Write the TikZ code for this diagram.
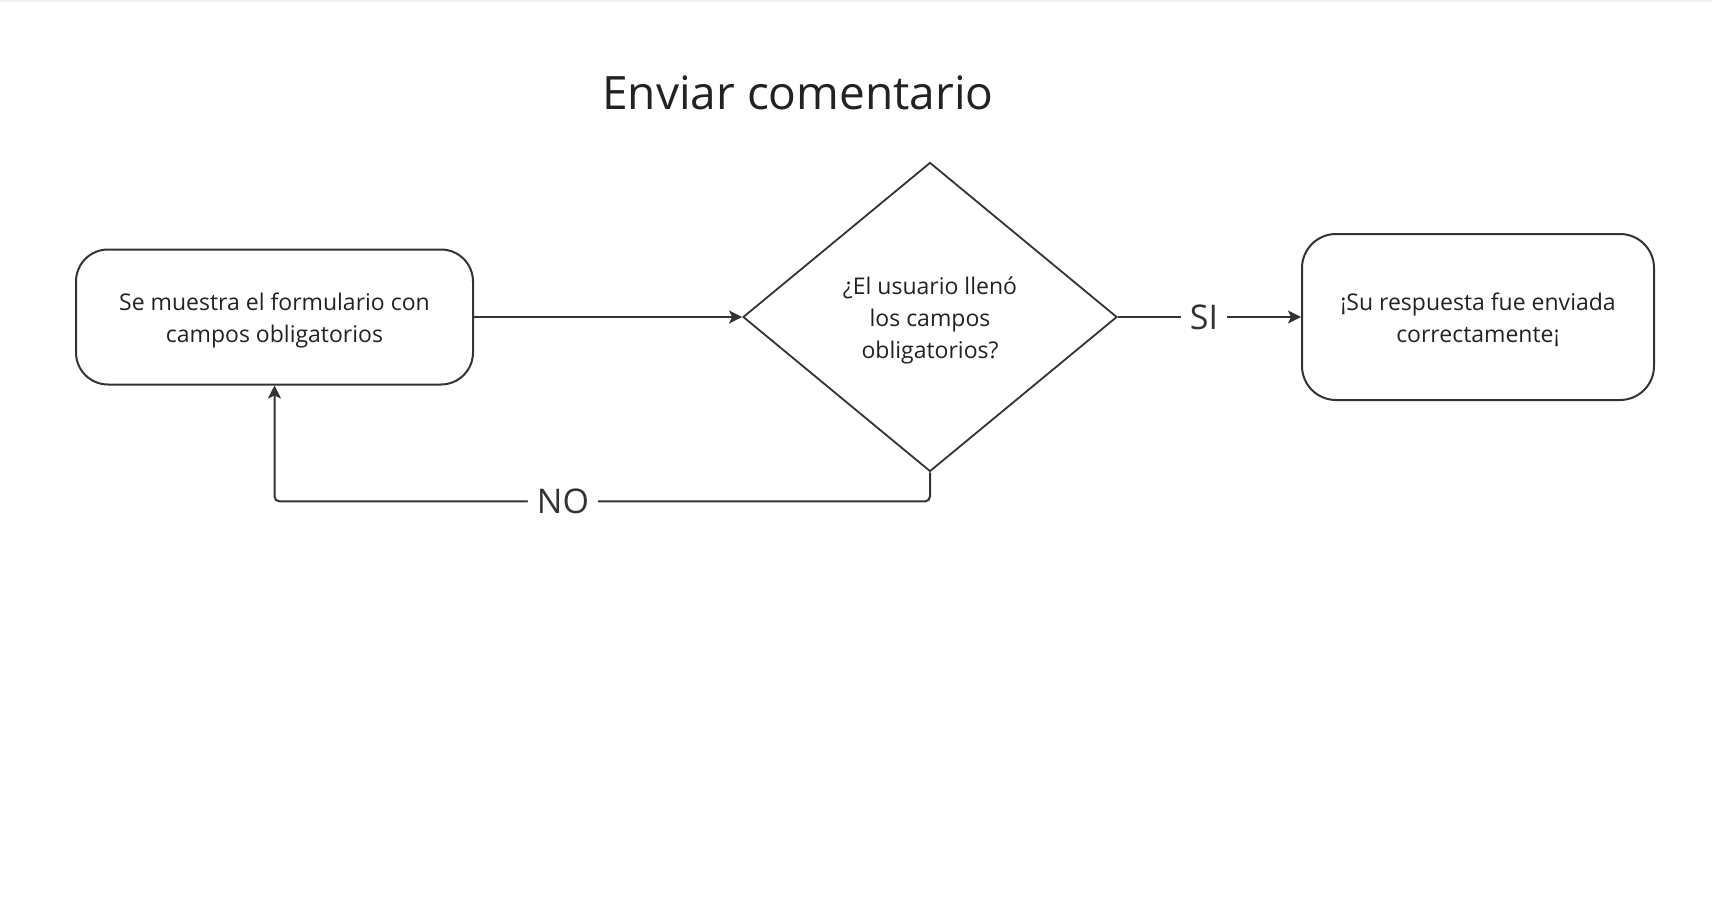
\documentclass[tikz,border=0pt]{standalone}
\usepackage{fontspec}
\setmainfont{Open Sans}
\usetikzlibrary{shapes.geometric,arrows.meta}
\definecolor{linec}{HTML}{333333}
\definecolor{textc}{HTML}{222222}
\definecolor{edgec}{HTML}{EFEFEF}
\newcommand{\lowtext}[1]{\raisebox{-3pt}[\height][\depth]{\begin{tabular}{@{}c@{}}#1\end{tabular}}}
\begin{document}
\begin{tikzpicture}[x=1pt,y=-1pt,
  box/.style={draw=linec, line width=2pt, rounded corners=32pt, inner sep=0pt,
    align=center, font=\fontsize{23}{32}\selectfont, text=textc},
  decision/.style={draw=linec, line width=1.8pt, diamond, inner sep=0pt,
    minimum width=374pt, minimum height=309pt, aspect=1.2, align=center,
    font=\fontsize{23}{32}\selectfont, text=textc},
  conn/.style={draw=linec, line width=2pt, -{Stealth[length=13pt,width=13pt,inset=3pt]}},
  lab/.style={font=\fontsize{34}{34}\selectfont, text=linec, fill=white,
    inner xsep=9pt, inner ysep=0pt},
  titlestyle/.style={font=\fontsize{46}{46}\selectfont, text=textc}
]
\useasboundingbox (0,0) rectangle (1712,912);
\fill[white] (0,0) rectangle (1712,912);
\draw[edgec, line width=2pt] (0,1) -- (1712,1);

\node[titlestyle, anchor=base] (title) at (798,110) {Enviar comentario};

\node[box, minimum width=397pt, minimum height=135pt] (form) at (274.5,317)
  {\lowtext{Se muestra el formulario con\\campos obligatorios}};
\node[decision] (dec) at (930,317)
  {\lowtext{¿El usuario llenó\\los campos\\obligatorios?}};
\node[box, rounded corners=34pt, minimum width=352pt, minimum height=166pt] (ok) at (1478,317)
  {\lowtext{¡Su respuesta fue enviada\\correctamente¡}};

\draw[conn] (form.east) -- (dec.west);
\draw[conn] (dec.east) -- node[lab, pos=0.47] {SI} (ok.west);
\draw[conn, rounded corners=5pt] (dec.south) -- ++(0,29) -| node[lab, pos=0.28] {NO} (form.south);
\end{tikzpicture}
\end{document}
